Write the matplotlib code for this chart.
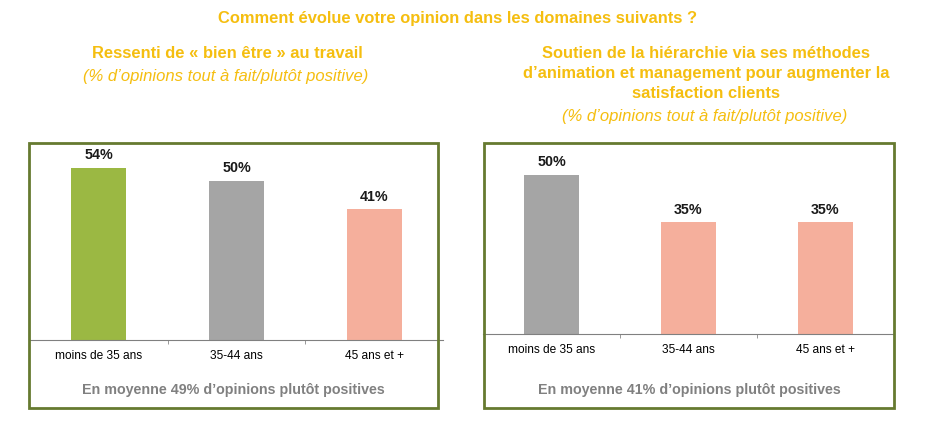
import numpy as np
import matplotlib
matplotlib.use("Agg")
import matplotlib.pyplot as plt
from matplotlib.patches import Rectangle

plt.rcParams['font.family'] = ['Liberation Sans', 'DejaVu Sans']

categories = ["moins de 35 ans", "35-44 ans", "45 ans et +"]
left_values = [54, 50, 41]
right_values = [50, 35, 35]
left_colors = ["#9BB843", "#A5A5A5", "#F5AF9C"]
right_colors = ["#A5A5A5", "#F5AF9C", "#F5AF9C"]
left_avg = "En moyenne 49% d\u2019opinions plutôt positives"
right_avg = "En moyenne 41% d\u2019opinions plutôt positives"

W, H = 930, 445
gold = "#F5BE10"
border = "#667A30"

fig = plt.figure(figsize=(W / 100, H / 100), dpi=100)


def fx(px):
    return px / W


def fy(py):
    return 1 - py / H


# titles
fig.text(fx(458), fy(18), "Comment évolue votre opinion dans les domaines suivants ?",
         ha="center", va="center", color=gold, fontsize=11.9, fontweight="bold")
fig.text(fx(227), fy(53), "Ressenti de « bien être » au travail",
         ha="center", va="center", color=gold, fontsize=11.9, fontweight="bold")
fig.text(fx(226), fy(76), "(% d\u2019opinions tout à fait/plutôt positive)",
         ha="center", va="center", color=gold, fontsize=12, style="italic")
fig.text(fx(706), fy(73.5), "Soutien de la hiérarchie via ses méthodes\n"
         "d\u2019animation et management pour augmenter la\nsatisfaction clients",
         ha="center", va="center", color=gold, fontsize=11.9, fontweight="bold",
         linespacing=1.45)
fig.text(fx(705), fy(117), "(% d\u2019opinions tout à fait/plutôt positive)",
         ha="center", va="center", color=gold, fontsize=12, style="italic")


def panel(x0, x1, base, ytop, values, colors, avg, box):
    ax = fig.add_axes([fx(x0), fy(base), fx(x1) - fx(x0), fy(ytop) - fy(base)])
    x = np.arange(len(values))
    bars = ax.bar(x, values, width=0.4, color=colors)
    for b, v in zip(bars, values):
        ax.annotate(f"{v}%", (b.get_x() + b.get_width() / 2, v), xytext=(0, 4),
                    textcoords="offset points", ha="center", va="bottom",
                    fontsize=10.3, fontweight="bold", color="#1a1a1a")
    ax.set_xlim(-0.5, 2.5)
    ax.set_ylim(0, (base - ytop) / 3.19)
    ax.set_xticks(x)
    ax.set_xticklabels(categories, fontsize=8.6)
    ax.set_xticks([0.5, 1.5], minor=True)
    ax.tick_params(axis="x", which="major", length=0, pad=7)
    ax.tick_params(axis="x", which="minor", length=3, color="#888888")
    ax.set_yticks([])
    for s in ["left", "right", "top"]:
        ax.spines[s].set_visible(False)
    ax.spines["bottom"].set_color("#808080")
    ax.patch.set_alpha(0)
    bx0, by0, bx1, by1 = box
    fig.patches.append(Rectangle((fx(bx0), fy(by1)), fx(bx1) - fx(bx0), fy(by0) - fy(by1),
                                 transform=fig.transFigure, fill=False,
                                 edgecolor=border, linewidth=2))
    fig.text(fx((bx0 + bx1) / 2), fy(390), avg, ha="center", va="center",
             fontsize=10.3, fontweight="bold", color="#808080")


panel(30, 443, 340, 143, left_values, left_colors, left_avg, (29, 143, 438, 408))
panel(483, 894, 334, 143, right_values, right_colors, right_avg, (484, 143, 894, 408))

fig.savefig("out.png", dpi=100)
